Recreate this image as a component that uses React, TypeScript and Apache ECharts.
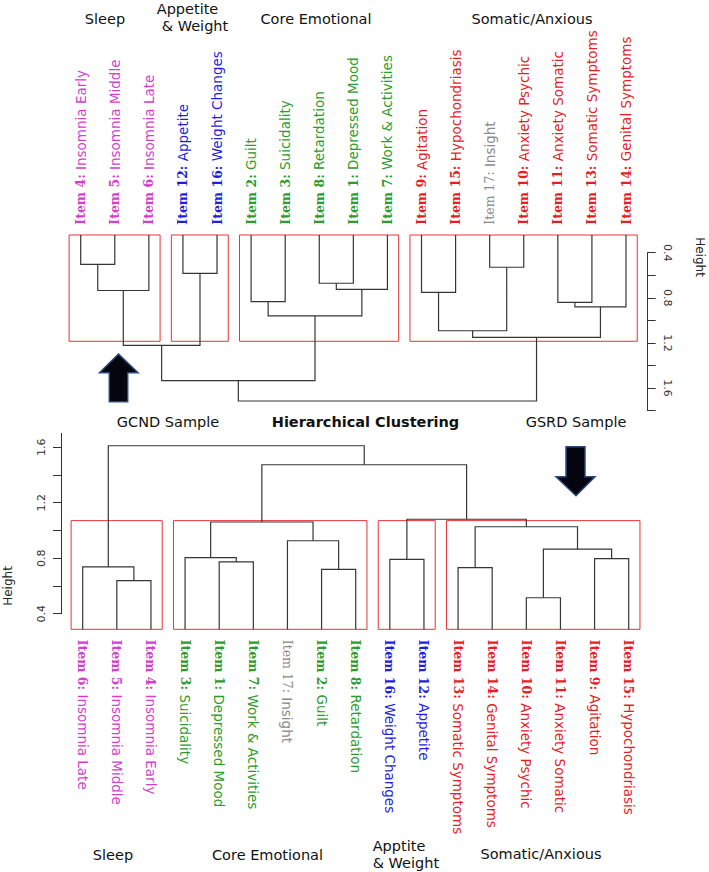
import React, { useEffect, useRef } from "react";
import * as echarts from "echarts";

// Item descriptions (index = item number - 1)
const ITEM_NAMES = [
  "Depressed Mood", "Guilt", "Suicidality", "Insomnia Early", "Insomnia Middle",
  "Insomnia Late", "Work & Activities", "Retardation", "Agitation", "Anxiety Psychic",
  "Anxiety Somatic", "Appetite", "Somatic Symptoms", "Genital Symptoms",
  "Hypochondriasis", "Weight Changes", "Insight",
];
const SLEEP_ITEMS = [4, 5, 6];
const APPETITE_ITEMS = [12, 16];
const CORE_ITEMS = [1, 2, 3, 7, 8];
const SOMATIC_ITEMS = [9, 10, 11, 13, 14, 15];
const OTHER_ITEMS = [17];

// GSRD sample (top dendrogram)
const TOP_ORDER = [4, 5, 6, 12, 16, 2, 3, 8, 1, 7, 9, 15, 17, 10, 11, 13, 14];
// merges in R hclust style: negative = leaf item, positive = merge row (1-based); third = height
const TOP_MERGES: [number, number, number][] = [
  [-4, -5, 0.503], [-17, -10, 0.529], [-12, -16, 0.583], [-8, -1, 0.671],
  [4, -7, 0.726], [1, -6, 0.735], [-9, -15, 0.751], [-2, -3, 0.833],
  [-11, -13, 0.84], [9, -14, 0.88], [8, 5, 0.961], [7, 2, 1.092],
  [12, 10, 1.15], [6, 3, 1.221], [14, 11, 1.535], [15, 13, 1.715],
];
const TOP_LEAF_H = 0.243;
const TOP_CLUSTER_SIZES = [3, 2, 5, 7];
const TOP_TICK_LABELS = [0.4, 0.8, 1.2, 1.6];

// GCND sample (bottom dendrogram)
const BOTTOM_ORDER = [6, 5, 4, 3, 1, 7, 17, 2, 8, 16, 12, 13, 14, 10, 11, 9, 15];
const BOTTOM_MERGES: [number, number, number][] = [
  [-10, -11, 0.515], [-5, -4, 0.638], [-2, -8, 0.72], [-13, -14, 0.732],
  [-6, 2, 0.737], [-1, -7, 0.773], [-16, -12, 0.792], [-9, -15, 0.797],
  [-3, 6, 0.804], [1, 8, 0.866], [-17, 3, 0.926], [4, 10, 1.027],
  [9, 11, 1.061], [7, 12, 1.081], [13, 14, 1.474], [5, 15, 1.611],
];
const BOTTOM_LEAF_H = 0.2875;
const BOTTOM_CLUSTER_SIZES = [3, 6, 2, 6];
const BOTTOM_TICKS = [0.4, 0.6, 0.8, 1.0, 1.2, 1.4, 1.6];
const BOTTOM_TICK_LABELS = [0.4, 0.8, 1.2, 1.6];

const COLORS: Record<string, string> = {
  sl: "#d23fca",
  ap: "#1f1fe0",
  co: "#2e9b2e",
  so: "#e51d25",
  ot: "#8a8a8a",
};

function groupOf(id: number): string {
  if (SLEEP_ITEMS.includes(id)) return "sl";
  if (APPETITE_ITEMS.includes(id)) return "ap";
  if (CORE_ITEMS.includes(id)) return "co";
  if (SOMATIC_ITEMS.includes(id)) return "so";
  if (OTHER_ITEMS.includes(id)) return "ot";
  return "ot";
}

function layoutDendro(order: number[], merges: [number, number, number][], leafH: number) {
  const pos: Record<number, number> = {};
  order.forEach((id, i) => (pos[id] = i));
  const cx: number[] = [];
  const ch: number[] = [];
  const segs: number[][] = [];
  merges.forEach(([a, b, h], k) => {
    const get = (r: number) => (r < 0 ? [pos[-r], leafH] : [cx[r - 1], ch[r - 1]]);
    const [xa, ha] = get(a);
    const [xb, hb] = get(b);
    cx[k] = (xa + xb) / 2;
    ch[k] = h;
    segs.push([xa, ha, xb, hb, h]);
  });
  return segs;
}

function clusterBoxes(sizes: number[], merges: [number, number, number][], leafH: number) {
  const hs = merges.map((m) => m[2]).sort((a, b) => b - a);
  const k = sizes.length;
  const cut = (hs[k - 2] + hs[k - 1]) / 2;
  const boxes: number[][] = [];
  let start = 0;
  sizes.forEach((s) => {
    const end = start + s - 1;
    boxes.push([start - 0.34, end + 0.33, leafH, cut]);
    start += s;
  });
  return boxes;
}

const rich: Record<string, any> = {};
Object.keys(COLORS).forEach((g) => {
  rich["p" + g] = {
    fontFamily: "DejaVu Serif",
    fontWeight: g === "ot" ? "normal" : "bold",
    fontSize: 12.5,
    color: COLORS[g],
  };
  rich["d" + g] = {
    fontFamily: "DejaVu Sans",
    fontSize: 13.5,
    color: COLORS[g],
  };
});

const labelFmt = (v: string) => {
  const id = Number(v);
  const g = groupOf(id);
  return `{p${g}|Item ${id}:}{d${g}| ${ITEM_NAMES[id - 1]}}`;
};

const tickFmt = (labels: number[]) => (v: number) =>
  labels.some((t) => Math.abs(t - v) < 1e-6) ? v.toFixed(1) : "";

const dendroRender = (params: any, api: any) => {
  const xa = api.value(0), ha = api.value(1), xb = api.value(2), hb = api.value(3), h = api.value(4);
  return {
    type: "polyline",
    shape: { points: [api.coord([xa, ha]), api.coord([xa, h]), api.coord([xb, h]), api.coord([xb, hb])] },
    style: { stroke: "#363636", lineWidth: 1.2, fill: null },
  };
};

const boxRender = (params: any, api: any) => {
  const x0 = api.value(0), x1 = api.value(1), h0 = api.value(2), h1 = api.value(3);
  const a = api.coord([x0, h0]);
  const b = api.coord([x1, h1]);
  return {
    type: "rect",
    shape: { x: Math.min(a[0], b[0]), y: Math.min(a[1], b[1]), width: Math.abs(b[0] - a[0]), height: Math.abs(b[1] - a[1]) },
    style: { stroke: "#e6333a", lineWidth: 1, fill: null },
  };
};

const TITLE_FONT = { fontFamily: "DejaVu Sans", fontSize: 14.5, fill: "#111" };

function txt(text: string, x: number, y: number, extra: any = {}, rotation = 0, align = "center") {
  return {
    type: "text",
    x,
    y,
    rotation,
    style: {
      text,
      ...TITLE_FONT,
      align,
      verticalAlign: "middle",
      textAlign: align,
      textVerticalAlign: "middle",
      ...extra,
    },
  };
}

export default function App() {
  const ref = useRef<HTMLDivElement>(null);
  useEffect(() => {
    if (!ref.current) return;
    const chart = echarts.init(ref.current, undefined, { renderer: "svg" });
    const topSegs = layoutDendro(TOP_ORDER, TOP_MERGES, TOP_LEAF_H);
    const botSegs = layoutDendro(BOTTOM_ORDER, BOTTOM_MERGES, BOTTOM_LEAF_H);
    const topBoxes = clusterBoxes(TOP_CLUSTER_SIZES, TOP_MERGES, TOP_LEAF_H);
    const botBoxes = clusterBoxes(BOTTOM_CLUSTER_SIZES, BOTTOM_MERGES, BOTTOM_LEAF_H);

    const axisLineCfg = { show: true, onZero: false, lineStyle: { color: "#333", width: 1 } };
    const tickStyle = { color: "#333" };

    const option: any = {
      animation: false,
      backgroundColor: "#fff",
      grid: [
        { left: 80.7, top: 252.7, width: 545.3, height: 157.9 },
        { left: 82.7, top: 433.4, width: 546, height: 180.3 },
      ],
      xAxis: [
        {
          gridIndex: 0, type: "category", data: TOP_ORDER.map(String), boundaryGap: false, position: "top",
          axisLine: { show: false, onZero: false }, axisTick: { show: false }, splitLine: { show: false },
          axisLabel: { interval: 0, rotate: -90, margin: 28, formatter: labelFmt, rich },
        },
        { gridIndex: 0, type: "value", min: 0, max: 16, show: false, axisLine: { onZero: false } },
        {
          gridIndex: 1, type: "category", data: BOTTOM_ORDER.map(String), boundaryGap: false, position: "bottom",
          axisLine: { show: false, onZero: false }, axisTick: { show: false }, splitLine: { show: false },
          axisLabel: { interval: 0, rotate: -90, margin: 26, formatter: labelFmt, rich },
        },
        { gridIndex: 1, type: "value", min: 0, max: 16, show: false, axisLine: { onZero: false } },
      ],
      yAxis: [
        {
          gridIndex: 0, type: "value", inverse: true, min: 0.4, max: 1.8, interval: 0.2,
          position: "right", offset: 21.7,
          axisLine: axisLineCfg,
          axisTick: { show: true, inside: false, length: 8, lineStyle: tickStyle },
          splitLine: { show: false },
          axisLabel: { rotate: -90, margin: 14, formatter: tickFmt(TOP_TICK_LABELS), fontSize: 11, color: "#333", fontFamily: "DejaVu Sans" },
        },
        {
          gridIndex: 1, type: "value", min: 0.4, max: 1.7,
          position: "left", offset: 21.7,
          axisLine: axisLineCfg,
          axisTick: { show: true, inside: false, length: 8, lineStyle: tickStyle, customValues: BOTTOM_TICKS },
          splitLine: { show: false },
          axisLabel: {
            rotate: 90, margin: 14, customValues: BOTTOM_TICK_LABELS,
            formatter: (v: number) => v.toFixed(1), fontSize: 11, color: "#333", fontFamily: "DejaVu Sans",
          },
        },
      ],
      series: [
        { type: "custom", xAxisIndex: 1, yAxisIndex: 0, clip: false, renderItem: boxRender, data: topBoxes, silent: true },
        { type: "custom", xAxisIndex: 1, yAxisIndex: 0, clip: false, renderItem: dendroRender, data: topSegs, silent: true },
        { type: "custom", xAxisIndex: 3, yAxisIndex: 1, clip: false, renderItem: boxRender, data: botBoxes, silent: true },
        { type: "custom", xAxisIndex: 3, yAxisIndex: 1, clip: false, renderItem: dendroRender, data: botSegs, silent: true },
      ],
      graphic: [
        // top group titles
        txt("Sleep", 105, 19),
        txt("Appetite", 187.5, 8.5),
        txt("& Weight", 195, 26),
        txt("Core Emotional", 316, 18.5),
        txt("Somatic/Anxious", 532, 19),
        // top axis name
        txt("Height", 700, 257, { fontSize: 12, fill: "#222" }, -Math.PI / 2),
        // arrows
        {
          type: "polygon",
          shape: { points: [[118.5, 354], [138, 372.7], [127.7, 372.7], [127.7, 401.7], [109.3, 401.7], [109.3, 372.7], [99.5, 372.7]] },
          style: { fill: "#05050f", stroke: "#2a4a7a", lineWidth: 1.5 },
        },
        {
          type: "polygon",
          shape: { points: [[566, 446.7], [585, 446.7], [585, 476.7], [595, 476.7], [576, 495.7], [556, 476.7], [566, 476.7]] },
          style: { fill: "#05050f", stroke: "#2a4a7a", lineWidth: 1.5 },
        },
        // middle titles
        txt("GCND Sample", 168, 422),
        txt("Hierarchical Clustering", 365.5, 422, { fontWeight: "bold" }),
        txt("GSRD Sample", 576, 422),
        // bottom axis name
        txt("Height", 7.5, 586, { fontSize: 12, fill: "#222" }, Math.PI / 2),
        // bottom group titles
        txt("Sleep", 113, 855),
        txt("Core Emotional", 267.5, 855),
        txt("Apptite", 372.7, 845.7, {}, 0, "left"),
        txt("& Weight", 372.7, 863.3, {}, 0, "left"),
        txt("Somatic/Anxious", 541, 854.3),
      ],
    };
    chart.setOption(option);
    return () => chart.dispose();
  }, []);
  return (
    <div
      ref={ref}
      style={{ position: "fixed", left: 0, top: 0, width: 709, height: 872, background: "#fff" }}
    />
  );
}
